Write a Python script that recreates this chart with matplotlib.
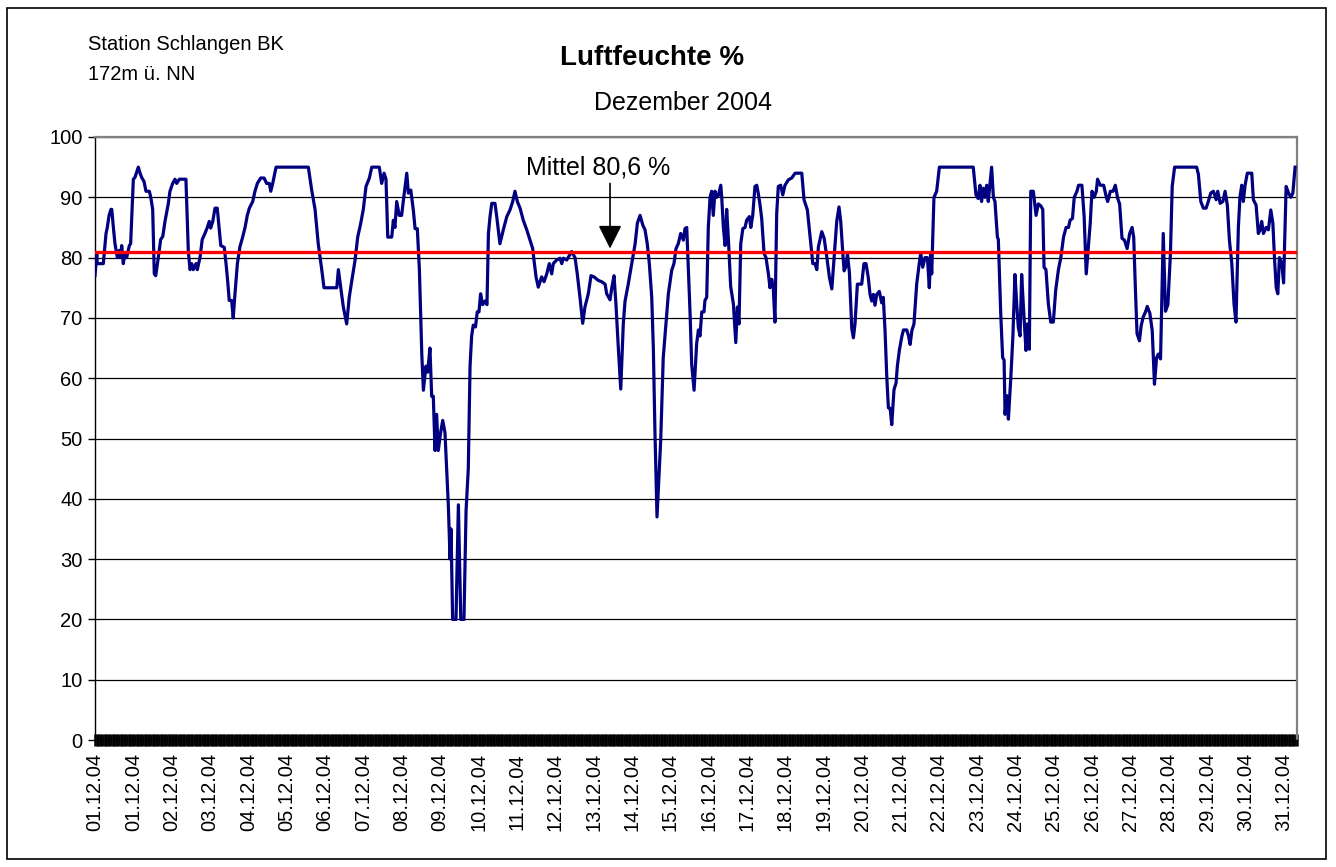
import numpy as np
import matplotlib.pyplot as plt
from matplotlib.patches import Rectangle

plt.rcParams['font.family'] = ['Liberation Sans', 'DejaVu Sans']

# Stunden seit 01.12.04 (Messzeitpunkt) und Luftfeuchte in %
hours = [
    0.0, 1.1, 1.4, 5.2, 6.9, 7.7, 8.8, 10.0, 10.5, 11.5, 12.5, 14.0, 15.2, 16.1, 16.7, 17.7, 18.8, 19.8,
    21.5, 22.3, 24.0, 25.0, 27.1, 28.2, 29.2, 30.7, 31.9, 34.0, 34.9, 36.1, 37.1, 38.0, 39.6, 41.1, 42.4,
    43.8, 45.9, 46.9, 48.6, 50.1, 51.1, 52.8, 56.9, 58.4, 59.5, 60.5, 61.5, 63.2, 64.0, 65.7, 67.1, 68.8,
    70.3, 71.5, 72.4, 73.7, 75.1, 76.5, 78.7, 80.9, 82.0, 83.0, 84.0, 85.5, 86.5, 87.6, 89.1, 90.7, 92.4,
    93.9, 95.3, 96.6, 98.7, 100.1, 101.6, 103.7, 105.8, 107.4, 109.1, 110.0, 111.2, 113.3, 133.5, 135.6,
    137.7, 139.7, 141.9, 143.3, 151.3, 152.3, 153.8, 155.4, 157.5, 159.1, 160.6, 162.7, 164.4, 166.3,
    167.9, 169.6, 171.7, 173.2, 177.9, 179.4, 180.9, 182.1, 183.2, 185.7, 186.7, 187.7, 188.8, 190.4,
    191.9, 192.9, 195.1, 196.1, 197.6, 199.2, 200.3, 201.7, 203.0, 203.8, 204.5, 205.5, 207.1, 208.2,
    209.6, 210.7, 211.7, 212.8, 213.8, 214.8, 216.3, 217.6, 219.0, 219.7, 221.1, 222.2, 222.8, 223.8,
    225.9, 227.4, 228.9, 230.9, 232.2, 233.6, 234.7, 235.7, 236.7, 238.1, 239.2, 240.3, 241.3, 242.6,
    244.1, 245.3, 246.2, 247.2, 248.3, 250.3, 251.4, 253.4, 255.5, 257.7, 259.7, 261.4, 262.8, 264.3,
    266.0, 268.0, 270.2, 272.2, 273.9, 274.7, 276.0, 277.4, 279.5, 281.0, 282.7, 284.3, 285.8, 286.8,
    288.9, 291.0, 292.1, 293.1, 295.2, 298.3, 300.4, 301.8, 303.5, 305.2, 306.6, 308.7, 310.4, 312.3,
    315.0, 317.1, 319.2, 320.2, 322.3, 323.4, 324.8, 326.0, 327.5, 329.0, 330.6, 331.7, 333.7, 335.9,
    338.0, 339.4, 341.1, 342.8, 344.2, 345.6, 346.9, 348.4, 349.4, 350.4, 351.7, 354.0, 355.6, 357.3,
    358.8, 360.9, 362.3, 363.6, 365.0, 366.5, 368.2, 369.2, 370.3, 371.3, 372.4, 373.4, 374.9, 376.5,
    377.6, 378.6, 379.7, 381.1, 381.7, 382.8, 383.8, 384.9, 385.9, 386.9, 388.0, 389.0, 390.1, 391.6,
    392.2, 393.2, 394.3, 395.3, 396.4, 397.8, 399.5, 401.0, 402.0, 403.0, 404.1, 405.4, 406.8, 407.8,
    409.5, 410.4, 411.6, 413.0, 414.1, 415.1, 416.2, 417.2, 418.7, 419.9, 421.4, 422.4, 423.5, 424.5,
    425.5, 426.6, 427.6, 429.1, 430.4, 431.8, 433.9, 436.0, 438.1, 442.3, 443.7, 445.8, 447.5, 449.2,
    450.6, 451.7, 452.7, 454.8, 456.3, 458.0, 459.6, 461.1, 462.5, 464.2, 465.6, 466.7, 468.0, 468.8,
    470.0, 470.9, 472.1, 473.6, 474.6, 475.6, 477.1, 479.8, 481.2, 482.5, 483.9, 485.0, 486.1, 487.1,
    488.1, 489.2, 490.8, 492.3, 493.3, 494.4, 495.5, 496.5, 497.6, 498.6, 500.0, 501.3, 502.1, 503.4,
    504.9, 505.9, 508.0, 509.1, 510.1, 511.2, 512.5, 514.2, 515.8, 516.7, 518.0, 519.4, 520.9, 522.1,
    523.0, 523.6, 525.0, 526.7, 528.4, 549.6, 551.3, 552.7, 553.8, 554.8, 555.9, 556.9, 558.0, 559.0,
    561.1, 562.2, 563.2, 564.7, 565.3, 566.8, 568.0, 568.9, 569.5, 570.6, 571.6, 573.1, 574.4, 575.7,
    576.8, 577.8, 578.9, 579.9, 580.9, 582.6, 583.4, 584.7, 585.6, 587.2, 588.9, 590.3, 591.8, 593.1,
    593.9, 595.1, 596.6, 598.1, 599.7, 601.2, 602.9, 604.4, 606.1, 607.7, 609.2, 610.2, 611.7, 612.8,
    614.5, 615.5, 617.6, 619.0, 620.3, 621.1, 622.8, 623.9, 625.3, 626.6, 627.4, 629.1, 631.2, 632.9,
    633.7, 635.4, 637.1, 638.5, 640.0, 641.2, 642.7, 644.2, 645.9, 647.5, 649.0, 650.0, 651.1, 652.1,
    653.6, 654.7, 655.9, 657.4, 658.5, 660.1, 661.6, 663.0, 664.3, 665.4, 666.8, 668.5, 669.9, 671.4,
    673.0, 674.1, 675.6, 689.4, 690.5, 692.0, 693.6, 695.3, 696.7, 698.2, 699.9, 701.6, 702.6, 704.1,
    705.8, 707.2, 708.6, 709.9, 711.4, 712.8, 714.0, 715.5, 716.5, 717.6, 718.6, 719.7, 721.1, 723.9,
    724.9, 726.6, 728.0, 729.1, 730.1, 731.2, 732.9, 734.3, 735.8, 737.1, 738.1, 739.2, 740.2, 741.2,
    742.7, 743.8, 745.4, 746.9, 748.4, 749.6, 751.0,
]
humidity = [
    77, 80.7, 79, 79, 84, 85, 87, 88, 88, 85, 82.3, 80, 81.2, 80, 82, 79, 80.7, 80,
    82, 82.3, 93, 93.3, 95, 94, 93.3, 92.6, 91, 91, 90, 88, 77.3, 77, 80, 83, 83.5,
    86, 89, 91, 92.3, 93, 92.3, 93, 93, 81, 78, 79, 78, 79, 78, 80, 83, 84,
    85, 86, 84.9, 86, 88.2, 88.2, 82, 81.7, 79, 76.2, 72.9, 72.9, 70, 74, 79, 81.8, 83.4,
    85, 87, 88.2, 89.3, 91, 92.3, 93.2, 93.2, 92.3, 92.3, 91, 92.3, 95, 95, 91.2,
    88, 82.3, 78, 75, 75, 78, 75, 71.8, 69, 73.4, 76, 79.5, 83.4, 85.7,
    88, 91.8, 93.2, 95, 95, 92.3, 94, 93, 83.4, 83.4, 86.2, 85, 89.3, 87,
    87, 89.3, 94, 90.7, 91.2, 87.9, 84.8, 84.8, 78, 70.5, 64, 58, 62, 61,
    65, 57, 57, 48, 54, 48, 51, 53, 51, 47, 39, 30, 35, 20,
    20, 39, 20, 20, 38, 45, 62, 67, 68.8, 68.5, 71, 71, 74, 72.2,
    72.8, 72.2, 84, 86.8, 89, 89, 86.8, 82.3, 84.6, 86.8, 87.9, 89.3, 91, 89.3,
    88.2, 86.2, 84.6, 82.9, 81.5, 79.6, 76.8, 75.1, 76.8, 76, 77.3, 79, 77.3, 79,
    79.6, 79.9, 79, 79.9, 79.6, 81, 80, 77.3, 73.4, 69.1, 71.8, 74, 77, 76.8,
    76.2, 76, 75.6, 74, 73, 75, 77, 72.3, 65, 58.2, 69, 72.8, 75.6, 79,
    82.3, 85.7, 87, 85.4, 84.6, 82.3, 79, 73.4, 65, 51.2, 37, 49.6, 63.4, 69,
    74, 77.9, 79, 81.5, 82.3, 84, 82.9, 84.8, 85, 78.4, 70.7, 62.3, 58, 65.7,
    68, 67, 71, 71, 72.9, 73.4, 85, 90, 91, 87, 91, 90, 90.3, 92,
    90, 85.1, 82, 88, 82.9, 75.2, 72.3, 65.9, 71.8, 69, 82.3, 84.8, 85, 86.2,
    86.8, 85, 87, 91.8, 92, 90.6, 88.7, 86.5, 80.7, 80, 77.3, 75, 76.4, 74.8,
    69.3, 87.3, 91.8, 92, 90.4, 92, 92.9, 93.2, 94, 94, 89.6, 87.9, 83.4, 79,
    79, 78, 81.8, 84.3, 83.2, 80, 76.7, 74.8, 80, 86.1, 88.4, 85.9, 80.6, 77.8,
    78.6, 80.6, 77.5, 68.2, 66.7, 69, 75.6, 75.6, 79, 79, 76.7, 73.9, 72.8, 73.9,
    72.1, 73.9, 74.4, 72.5, 73.4, 67.9, 60.1, 55.1, 55, 52.3, 58.1, 59.2, 62, 64.7,
    66.9, 68, 68, 67, 65.6, 67.9, 69, 75.6, 79, 80.7, 78.4, 80, 80, 75,
    80.8, 77.3, 90, 91, 95, 95, 90.4, 89.8, 92, 89.3, 91.5, 90, 92, 89.3,
    95, 90, 89.3, 83.4, 83, 70.7, 63.4, 63, 54, 57.1, 53.2, 60.1, 66.9, 77.2,
    72.3, 68.4, 67, 77.2, 72.3, 64.6, 69, 64.8, 91, 91, 87, 88.9, 88.6, 88,
    78.4, 78, 72.3, 69.3, 69.3, 74.6, 78, 80, 83.4, 85, 85, 86.2, 86.5, 90,
    91, 92, 92, 86.8, 77.3, 80, 85.7, 91, 90, 91, 93, 92, 92, 90,
    89.3, 91, 91, 92, 89.8, 88.9, 83.2, 82.9, 81.5, 84, 85, 83.4, 74.6, 67.4,
    66.2, 68.7, 70.1, 71, 71.9, 70.8, 67.9, 59, 63.4, 64, 63.2, 84, 71.1, 72.2,
    80.7, 91.8, 95, 95, 93.8, 89.3, 88.2, 88.2, 89.3, 90.7, 91, 89.6, 91, 89,
    89.3, 91, 88.7, 82.9, 79, 72.3, 69.3, 85, 90, 92, 89.3, 92, 94, 94,
    89.6, 88.7, 84, 84.6, 86, 84, 85, 84.6, 87.9, 85.7, 80, 75, 74, 80,
    79, 75.8, 91.8, 90.7, 90, 90.7, 95,
]

day_labels = ['01.12.04', '01.12.04', '02.12.04', '03.12.04', '04.12.04', '05.12.04', '06.12.04',
              '07.12.04', '08.12.04', '09.12.04', '10.12.04', '11.12.04', '12.12.04', '13.12.04',
              '14.12.04', '15.12.04', '16.12.04', '17.12.04', '18.12.04', '19.12.04', '20.12.04',
              '21.12.04', '22.12.04', '23.12.04', '24.12.04', '25.12.04', '26.12.04', '27.12.04',
              '28.12.04', '29.12.04', '30.12.04', '31.12.04']
n_hours = 753
mean_value = 81.0
mean_text = 'Mittel 80,6 %'

################################################################################################
'Plot'
################################################################################################
W, H = 1336, 867
fig = plt.figure(figsize=(W / 100, H / 100), dpi=100)
ax = fig.add_axes([95 / W, 1 - 740 / H, (1297 - 95) / W, (740 - 137) / H])

ax.plot(hours, humidity, color='#000080', lw=2.3, solid_joinstyle='round', zorder=3)
ax.axhline(mean_value, color='#ff0000', lw=2.4, zorder=4)

ax.set_xlim(0, 752.2)
ax.set_ylim(0, 100)
ax.set_yticks(np.arange(0, 101, 10))
ax.yaxis.grid(True, color='black', lw=0.9)
ax.set_axisbelow(True)

ax.set_xticks(np.arange(0, 24 * len(day_labels), 24))
ax.set_xticklabels(day_labels, rotation=90)
ax.set_xticks(np.arange(0, n_hours), minor=True)
ax.tick_params(axis='x', which='both', direction='inout', length=9, width=1.8, color='black',
               labelsize=14.5, pad=5)
ax.tick_params(axis='y', direction='out', length=5, width=1, labelsize=14.5, pad=4)

for s in ['top', 'right']:
    ax.spines[s].set_color('#808080')
    ax.spines[s].set_linewidth(1.6)
ax.spines['left'].set_linewidth(1.0)
ax.spines['bottom'].set_linewidth(1.0)

# Mittelwert-Pfeil
ax.text(314.8, 94.9, mean_text, ha='center', va='center', fontsize=18)
ax.annotate('', xy=(322.3, mean_value + 0.5), xytext=(322.3, 92.3),
            arrowprops=dict(arrowstyle='-|>,head_length=0.72,head_width=0.36', color='black',
                            lw=1.2, mutation_scale=20, shrinkA=0, shrinkB=0))

fig.text(88 / W, 1 - 45 / H, 'Station Schlangen BK', ha='left', va='center', fontsize=14.5)
fig.text(88 / W, 1 - 75 / H, '172m ü. NN', ha='left', va='center', fontsize=14.5)
fig.text(652 / W, 1 - 58 / H, 'Luftfeuchte %', ha='center', va='center', fontsize=20,
         fontweight='bold')
fig.text(683 / W, 1 - 103 / H, 'Dezember 2004', ha='center', va='center', fontsize=18)

fig.patches.append(Rectangle((7 / W, 1 - 859 / H), (1326 - 7) / W, (859 - 8) / H,
                             transform=fig.transFigure, fill=False, ec='black', lw=1.2))

fig.savefig('out.png', dpi=100)
